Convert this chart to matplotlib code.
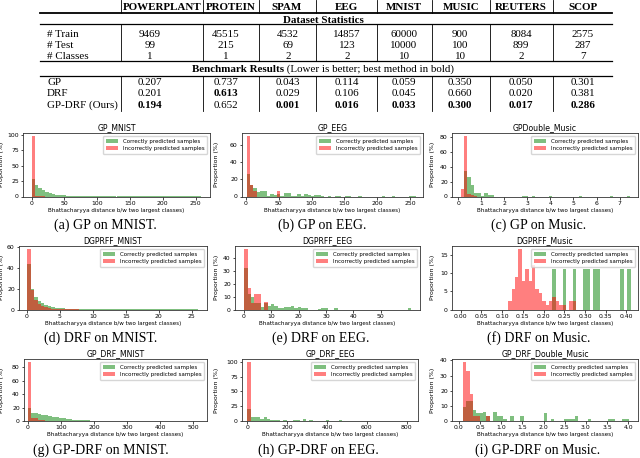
import numpy as np
import matplotlib
matplotlib.use("Agg")
import matplotlib.pyplot as plt
from matplotlib.lines import Line2D

# ---------------- table data ----------------
datasets = ["POWERPLANT", "PROTEIN", "SPAM", "EEG", "MNIST", "MUSIC", "REUTERS", "SCOP"]
n_train = ["9469", "45515", "4532", "14857", "60000", "900", "8084", "2575"]
n_test = ["99", "215", "69", "123", "10000", "100", "899", "287"]
n_classes = ["1", "1", "2", "2", "10", "10", "2", "7"]
stat_labels = ["# Train", "# Test", "# Classes"]
methods = ["GP", "DRF", "GP-DRF (Ours)"]
res_gp = [0.207, 0.737, 0.043, 0.114, 0.059, 0.350, 0.050, 0.301]
res_drf = [0.201, 0.613, 0.029, 0.106, 0.045, 0.660, 0.020, 0.381]
res_gpdrf = [0.194, 0.652, 0.001, 0.016, 0.033, 0.300, 0.017, 0.286]

# ---------------- histogram data (percent per bin, 50 bins) ----------------
# (a) GP_MNIST
a_range = (0, 259)
a_green = [29, 18, 13, 10, 7.5, 5.5, 4.2, 3.2, 2.5, 1.9,
           1.4, 1.1, 0.8, 0.6, 0.5, 0.4, 0.3, 0.25, 0.2, 0.15,
           0.12, 0.1, 0.08, 0.07, 0.06, 0.05, 0.05, 0.04, 0.04, 0.03,
           0.03, 0.03, 0.02, 0.02, 0.02, 0.02, 0.02, 0.01, 0.01, 0.01,
           0.01, 0.01, 0.01, 0.01, 0.01, 0.01, 0.01, 0.01, 0.01, 0.01]
a_red = [98, 1.5, 0.3, 0.1, 0, 0, 0, 0, 0, 0,
         0, 0, 0, 0, 0, 0, 0, 0, 0, 0,
         0, 0, 0, 0, 0, 0, 0, 0, 0, 0,
         0, 0, 0, 0, 0, 0, 0, 0, 0, 0,
         0, 0, 0, 0, 0, 0, 0, 0, 0, 0]
# (b) GP_EEG
b_range = (1, 259)
b_green = [26, 14, 10, 5, 6, 6, 1, 3, 2, 3,
           1, 4, 4, 1, 0.5, 3, 1, 3, 1.5, 0.5,
           1.5, 1.5, 0.5, 0, 1, 0, 1, 0.5, 0, 0.5,
           0.5, 0, 0, 0.5, 0, 0, 0, 0, 0, 0,
           0.5, 0, 0, 0.5, 0, 0, 0, 0, 0.5, 0.5]
b_red = [71, 14, 7, 0, 0, 0, 0, 0, 0, 7,
         0, 0, 0, 0, 0, 0, 0, 0, 0, 0,
         0, 0, 0, 0, 0, 0, 0, 0, 0, 0,
         0, 0, 0, 0, 0, 0, 0, 0, 0, 0,
         0, 0, 0, 0, 0, 0, 0, 0, 0, 0]
# (c) GPDouble_Music
c_range = (0.1, 7.45)
c_green = [0, 34, 26, 15, 5, 5, 1, 5, 2, 2,
           0, 0, 0, 0, 0, 0, 0, 0, 1, 1,
           0, 1, 0, 0, 0, 0, 1, 0, 0, 0,
           0, 0, 0, 0, 0, 1, 0, 0, 0, 0,
           0, 0, 0, 0, 1, 0, 0, 0, 0, 1]
c_red = [10, 82, 4, 2, 1, 0, 0, 0, 0, 0,
         0, 0, 0, 0, 0, 0, 0, 0, 0, 0,
         0, 0, 0, 0, 0, 0, 0, 0, 0, 0,
         0, 0, 0, 0, 0, 0, 0, 0, 0, 0,
         0, 0, 0, 0, 0, 0, 0, 0, 0, 0]
# (d) DGPRFF_MNIST
d_range = (0.05, 26)
d_green = [44, 20, 12, 8, 6, 4.5, 3.2, 2.3, 1.7, 1.3,
           1.0, 0.8, 0.6, 0.45, 0.35, 0.3, 0.25, 0.2, 0.15, 0.12,
           0.1, 0.08, 0.06, 0.05, 0.04, 0.03, 0.03, 0.02, 0.02, 0.02,
           0.02, 0.01, 0.01, 0.01, 0.01, 0.01, 0.01, 0.01, 0.01, 0.01,
           0.01, 0.01, 0.01, 0.01, 0.01, 0.01, 0.01, 0.01, 0.01, 0.01]
d_red = [58, 19, 9, 5.5, 3, 2, 1.3, 0.8, 0.5, 0.3,
         0.2, 0.15, 0.1, 0.05, 0.05, 0, 0, 0, 0, 0,
         0, 0, 0, 0, 0, 0, 0, 0, 0, 0,
         0, 0, 0, 0, 0, 0, 0, 0, 0, 0,
         0, 0, 0, 0, 0, 0, 0, 0, 0, 0]
# (e) DGPRFF_EEG
e_range = (0.1, 61.1)
e_green = [32, 12, 10, 5, 5, 2, 5, 3, 4, 3,
           1.5, 1, 2, 2, 3, 1, 2, 1, 1, 0,
           0, 0, 0.5, 1, 1, 0, 0, 1, 0, 0,
           0, 0, 0, 0, 0, 0, 0, 0, 0, 0,
           0, 0, 0, 0, 0, 0, 0, 0, 0, 1]
e_red = [47, 17, 5, 12, 12, 0, 6, 0, 0, 0,
         0, 0, 0, 0, 0, 0, 0, 0, 0, 0,
         0, 0, 0, 0, 0, 0, 0, 0, 0, 0,
         0, 0, 0, 0, 0, 0, 0, 0, 0, 0,
         0, 0, 0, 0, 0, 0, 0, 0, 0, 0]
# (f) DGPRFF_Music
f_range = (0.0, 0.41)
f_green = [0, 0, 0, 0, 0, 0, 0, 0, 0, 0,
           0, 0, 0, 0, 0, 0, 0, 0, 0, 0,
           0, 0, 0, 0, 0, 0, 0, 11.1, 0, 0,
           11.1, 0, 0, 11.1, 0, 0, 11.1, 11.1, 0, 11.1,
           11.1, 0, 0, 0, 0, 0, 0, 11.1, 0, 11.1]
f_red = [0, 0, 0, 0, 0, 0, 0, 0, 0, 0,
         0, 0, 0, 0, 2.2, 5.5, 8.8, 16.5, 7.7, 11.0,
         7.7, 12.1, 5.5, 4.4, 2.2, 1.1, 2.2, 3.3, 2.2, 1.1,
         1.1, 0, 2.2, 2.2, 0, 0, 0, 0, 0, 0,
         0, 0, 0, 0, 0, 0, 0, 0, 0, 0]
# (g) GP_DRF_MNIST
g_range = (0, 520)
g_green = [20, 12.5, 11.5, 10.5, 9.5, 8.5, 7.5, 6.5, 5.5, 4.7,
           3.8, 3.1, 2.5, 2.0, 1.7, 1.4, 1.1, 0.9, 0.7, 0.5,
           0.4, 0.3, 0.3, 0.2, 0.2, 0.15, 0.1, 0.1, 0.08, 0.06,
           0.05, 0.05, 0.04, 0.03, 0.03, 0.03, 0.02, 0.02, 0.02, 0.02,
           0.02, 0.01, 0.01, 0.01, 0.01, 0.01, 0.01, 0.01, 0.01, 0.01]
g_red = [88, 5, 4, 2, 1, 0.5, 0.3, 0.2, 0, 0,
         0, 0, 0, 0, 0, 0, 0, 0, 0, 0,
         0, 0, 0, 0, 0, 0, 0, 0, 0, 0,
         0, 0, 0, 0, 0, 0, 0, 0, 0, 0,
         0, 0, 0, 0, 0, 0, 0, 0, 0, 0]
# (h) GP_DRF_EEG
h_range = (0, 820)
h_green = [21, 7, 6, 6, 4, 7, 3, 2, 1.5, 1.5,
           0, 1.5, 0.5, 0, 1.5, 1.5, 0.5, 3, 0.5, 1.5,
           0, 0, 0, 0, 2, 0.5, 0, 0, 1.5, 0,
           0, 0, 0, 0.5, 0, 0, 0.5, 0, 0, 0,
           0.5, 0, 0, 0, 0, 0, 0, 0, 0.5, 0.5]
h_red = [100, 0, 0, 0, 0, 0, 0, 0, 0, 0,
         0, 0, 0, 0, 0, 0, 0, 0, 0, 0,
         0, 0, 0, 0, 0, 0, 0, 0, 0, 0,
         0, 0, 0, 0, 0, 0, 0, 0, 0, 0,
         0, 0, 0, 0, 0, 0, 0, 0, 0, 0]
# (i) GP_DRF_Double_Music
i_range = (0.09, 4.09)
i_green = [9, 13, 13, 7, 5, 5, 6, 3, 0, 6,
           3, 3, 1.5, 0, 3, 0, 0, 3, 0, 0,
           0, 0, 0, 0, 5, 0, 1.5, 0, 0, 0,
           1.5, 1.5, 1.5, 3, 0, 0, 0, 1.5, 0, 0,
           0, 0, 0, 1.5, 1.5, 0, 0, 1.5, 1.5, 0]
i_red = [39, 33, 18, 3, 3, 0, 0, 3, 0, 0,
         0, 0, 0, 0, 0, 0, 0, 0, 0, 0,
         0, 0, 0, 0, 0, 0, 0, 0, 0, 0,
         0, 0, 0, 0, 0, 0, 0, 0, 0, 0,
         0, 0, 0, 0, 0, 0, 0, 0, 0, 0]

titles = ["GP_MNIST", "GP_EEG", "GPDouble_Music",
          "DGPRFF_MNIST", "DGPRFF_EEG", "DGPRFF_Music",
          "GP_DRF_MNIST", "GP_DRF_EEG", "GP_DRF_Double_Music"]
captions = ["(a) GP on MNIST.", "(b) GP on EEG.", "(c) GP on Music.",
            "(d) DRF on MNIST.", "(e) DRF on EEG.", "(f) DRF on Music.",
            "(g) GP-DRF on MNIST.", "(h) GP-DRF on EEG.", "(i) GP-DRF on Music."]
ranges = [a_range, b_range, c_range, d_range, e_range, f_range, g_range, h_range, i_range]
greens = [a_green, b_green, c_green, d_green, e_green, f_green, g_green, h_green, i_green]
reds = [a_red, b_red, c_red, d_red, e_red, f_red, g_red, h_red, i_red]
xticks = [[0, 50, 100, 150, 200, 250], [0, 50, 100, 150, 200, 250], [0, 1, 2, 3, 4, 5, 6, 7],
          [0, 5, 10, 15, 20, 25], [0, 10, 20, 30, 40, 50], [0, 0.05, 0.1, 0.15, 0.2, 0.25, 0.3, 0.35, 0.4],
          [0, 100, 200, 300, 400, 500], [0, 200, 400, 600, 800], [0, 0.5, 1, 1.5, 2, 2.5, 3, 3.5, 4]]
yticks = [[0, 25, 50, 75, 100], [0, 20, 40, 60], [0, 20, 40, 60, 80],
          [0, 20, 40, 60], [0, 10, 20, 30, 40], [0, 5, 10, 15],
          [0, 20, 40, 60, 80], [0, 25, 50, 75, 100], [0, 10, 20, 30, 40]]

# ---------------- layout ----------------
W, H = 640, 458
fig = plt.figure(figsize=(6.4, 4.58), dpi=100)


def fx(x):
    return x / W


def fy(y):
    return 1 - y / H


serif = ["Liberation Serif", "DejaVu Serif"]
tfs = 7.9
TL, TR = 40, 612


def hline(y, lw):
    fig.add_artist(Line2D([fx(TL), fx(TR)], [fy(y), fy(y)], color="black", lw=lw))


def vline(x, y0, y1):
    fig.add_artist(Line2D([fx(x), fx(x)], [fy(y0), fy(y1)], color="black", lw=0.6))


hline(12.8, 1.3)
hline(24.3, 0.9)
hline(61.3, 0.9)
hline(75.8, 0.9)
seps = [121, 203, 259, 316, 377, 432, 490, 553]
for s in seps:
    vline(s, 0, 12.8)
    vline(s, 24.3, 61.3)
    vline(s, 75.8, 111)

header_x = [162, 231, 287, 346, 404, 461, 521, 583]
value_x = [150, 226, 288, 347, 404, 460, 521, 583]
label_x = 47


def ttext(x, y, s, bold=False, ha="center"):
    fig.text(fx(x), fy(y + 3.6), s, ha=ha, va="baseline", family=serif, fontsize=tfs,
             fontweight="bold" if bold else "normal")


for hx, name in zip(header_x, datasets):
    ttext(hx, 6.8, name, bold=True)
ttext(323, 19.0, "Dataset Statistics", bold=True)
for ry, lab, vals in zip([33.0, 44.2, 55.4], stat_labels, [n_train, n_test, n_classes]):
    ttext(label_x, ry, lab, ha="left")
    for vx, v in zip(value_x, vals):
        ttext(vx, ry, v)

# Benchmark row (bold part + regular part), centred
t1 = fig.text(0, 0, "Benchmark Results", family=serif, fontsize=tfs, fontweight="bold", va="baseline")
t2 = fig.text(0, 0, " (Lower is better; best method in bold)", family=serif, fontsize=tfs, va="baseline")
r = fig.canvas.get_renderer()
w1 = t1.get_window_extent(r).width
w2 = t2.get_window_extent(r).width
start = 323 - (w1 + w2) / 2
t1.set_position((fx(start), fy(68.5 + 3.6)))
t2.set_position((fx(start + w1), fy(68.5 + 3.6)))

results = [res_gp, res_drf, res_gpdrf]
best = np.argmin(np.array(results), axis=0)
for mi, (ry, m, vals) in enumerate(zip([81.5, 92.5, 104], methods, results)):
    ttext(label_x, ry, m, ha="left")
    for ci, (vx, v) in enumerate(zip(value_x, vals)):
        ttext(vx, ry, f"{v:.3f}", bold=(best[ci] == mi))

# ---------------- histograms ----------------
ax_px = [(23, 210, 133, 196.5), (242, 423, 133, 196.5), (452, 638, 133, 196.5),
         (19, 207, 246, 309.5), (235, 420, 246, 309.5), (452, 638, 246, 309.5),
         (24, 207, 359, 421), (242, 418, 359, 421), (452, 638, 359, 421)]
xlims = [(-13, 272), (-6, 270), (-0.27, 7.8),
         (-1.2, 27.3), (-3.3, 64.4), (-0.021, 0.428),
         (-11, 541), (-27, 857), (-0.165, 4.23)]
ylabel_px = [4, 219, 435, 4, 219, 435, 4, 219, 435]
cap_pos = [(105, 225), (322, 225), (539, 225),
           (101, 338), (321, 338), (539, 338),
           (101, 450), (318, 450), (538, 450)]

for k in range(9):
    x0, x1, yt, yb = ax_px[k]
    ax = fig.add_axes([fx(x0), fy(yb), fx(x1) - fx(x0), fy(yt) - fy(yb)])
    lo, hi = ranges[k]
    edges = np.linspace(lo, hi, len(greens[k]) + 1)
    centers = (edges[:-1] + edges[1:]) / 2
    ax.hist(centers, bins=edges, weights=greens[k], color="g", alpha=0.5,
            label="Correctly predicted samples")
    ax.hist(centers, bins=edges, weights=reds[k], color="r", alpha=0.5,
            label="Incorrectly predicted samples")
    ax.set_xlim(xlims[k])
    ax.set_xticks(xticks[k])
    ax.set_yticks(yticks[k])
    if k == 5:
        ax.set_xticklabels([f"{t:.2f}" for t in xticks[k]])
    elif k == 8:
        ax.set_xticklabels([f"{t:.1f}" for t in xticks[k]])
    ax.tick_params(labelsize=4.4, length=1.8, width=0.5, pad=1.2)
    for sp in ax.spines.values():
        sp.set_linewidth(0.6)
        sp.set_color("#333333")
    ax.set_title(titles[k], fontsize=5.6, pad=1.8)
    ax.set_xlabel("Bhattacharyya distance b/w two largest classes)", fontsize=4.1, labelpad=1.5)
    ax.set_ylabel("Proportion (%)", fontsize=4.5)
    ax.yaxis.set_label_coords((ylabel_px[k] - x0) / (x1 - x0), 0.5)
    ax.legend(loc="upper right", fontsize=4.0, handlelength=2.3, handleheight=0.8,
              borderpad=0.5, labelspacing=0.45, framealpha=0.8, edgecolor="0.8")
    cx, cy = cap_pos[k]
    fig.text(fx(cx), fy(cy), captions[k], ha="center", va="center", family=serif, fontsize=10)

fig.savefig("out.png", dpi=100)
